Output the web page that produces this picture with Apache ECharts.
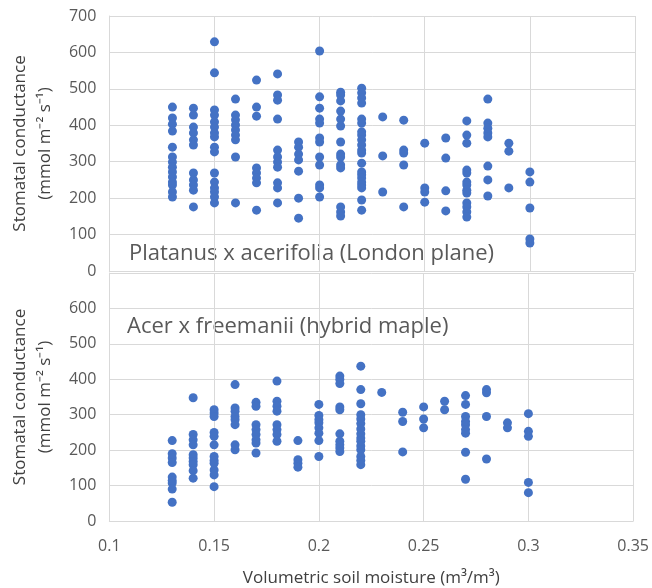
<!DOCTYPE html>
<html>
<head>
<meta charset="utf-8">
<script src="https://cdn.jsdelivr.net/npm/echarts@6/dist/echarts.min.js"></script>
<style>
  html, body { margin: 0; padding: 0; background: #fff; }
  #chart { width: 652px; height: 588px; }
</style>
</head>
<body>
<div id="chart"></div>
<script>
// soil moisture levels (m3/m3), one column of points per level
var moistureLevels = [0.13, 0.14, 0.15, 0.16, 0.17, 0.18, 0.19, 0.2, 0.21, 0.22, 0.23, 0.24, 0.25, 0.26, 0.27, 0.28, 0.29, 0.3];

// Platanus x acerifolia (London plane) - stomatal conductance per level
var planeValues = [
    [450, 420, 403, 384, 340, 313, 299, 285, 272, 258, 244, 236, 217, 203],
    [447, 428, 395, 379, 360, 346, 269, 250, 236, 222, 176],
    [629, 544, 442, 428, 409, 395, 379, 368, 340, 327, 269, 244, 228, 217, 203, 187],
    [472, 428, 415, 401, 387, 373, 360, 313, 187],
    [524, 450, 425, 283, 269, 255, 242, 167],
    [541, 483, 469, 417, 332, 313, 299, 285, 242, 228, 187],
    [354, 340, 321, 305, 274, 200, 145],
    [604, 478, 447, 417, 406, 365, 354, 313, 291, 236, 228, 203],
    [491, 483, 467, 439, 417, 398, 354, 321, 313, 291, 283, 176, 162, 151],
    [502, 489, 475, 461, 417, 406, 382, 373, 360, 346, 332, 324, 296, 272, 264, 255, 244, 236, 228, 195, 167],
    [423, 316, 217],
    [414, 332, 324, 291, 176],
    [351, 228, 217, 189],
    [365, 310, 220, 165],
    [412, 373, 351, 277, 269, 244, 236, 222, 214, 187, 176, 162, 148],
    [472, 406, 392, 379, 368, 288, 250, 206],
    [351, 329, 228],
    [272, 244, 173, 88, 77]
];

// Acer x freemanii (hybrid maple)
var mapleValues = [
    [227, 190, 178, 165, 124, 114, 107, 90, 53],
    [348, 244, 229, 215, 187, 178, 168, 159, 142, 121],
    [314, 305, 295, 250, 239, 215, 182, 171, 163, 144, 130, 97],
    [385, 319, 310, 295, 286, 272, 215, 201],
    [335, 324, 272, 258, 244, 229, 220, 192],
    [395, 338, 324, 310, 272, 258, 244, 225],
    [227, 173, 163, 152],
    [329, 298, 286, 277, 263, 248, 227, 182],
    [409, 400, 388, 322, 314, 246, 225, 215, 206, 196],
    [437, 371, 331, 300, 288, 275, 260, 246, 234, 225, 212, 201, 182, 171, 159],
    [363],
    [307, 281, 195],
    [322, 288, 263],
    [338, 314],
    [354, 329, 295, 281, 272, 258, 248, 194, 118],
    [371, 362, 295, 175],
    [277, 263],
    [303, 253, 239, 109, 80]
];

var xTicks = [0.1, 0.35, 0.05];   // min, max, step
var yTicks = [0, 700, 100];

function toPoints(cols) {
    var pts = [];
    for (var i = 0; i < cols.length; i++) {
        for (var j = 0; j < cols[i].length; j++) {
            pts.push([moistureLevels[i], cols[i][j]]);
        }
    }
    return pts;
}

var font = 'Open Sans';
var textGrey = '#595959';
var titleGrey = '#404040';
var gridGrey = '#d9d9d9';
var dotBlue = '#4472C4';
var yName = 'Stomatal conductance\n(mmol m\u207B\u00B2 s\u207B\u00B9)';

function xAxisFor(idx, withLabels) {
    return {
        type: 'value', gridIndex: idx,
        min: xTicks[0], max: xTicks[1], interval: xTicks[2],
        axisLine: { show: true, lineStyle: { color: gridGrey } },
        axisTick: { show: false },
        splitLine: { show: true, lineStyle: { color: gridGrey } },
        axisLabel: { show: withLabels, color: textGrey, fontSize: 16, fontFamily: font, margin: 17 },
        name: withLabels ? 'Volumetric soil moisture (m\u00B3/m\u00B3)' : '',
        nameLocation: 'middle', nameGap: 49,
        nameTextStyle: { color: titleGrey, fontSize: 17, fontFamily: font }
    };
}

function yAxisFor(idx, hideMax) {
    return {
        type: 'value', gridIndex: idx,
        min: yTicks[0], max: yTicks[1], interval: yTicks[2],
        axisLine: { show: true, lineStyle: { color: gridGrey } },
        axisTick: { show: false },
        splitLine: { show: true, lineStyle: { color: gridGrey } },
        axisLabel: {
            color: textGrey, fontSize: 16, fontFamily: font, margin: 13,
            formatter: function (v) { return (hideMax && v === yTicks[1]) ? '' : v; }
        },
        name: yName, nameLocation: 'middle', nameGap: 50,
        nameTextStyle: { color: titleGrey, fontSize: 17, fontFamily: font, lineHeight: 25 }
    };
}

var myChart = echarts.init(document.getElementById('chart'));
var option = {
    animation: false,
    grid: [
        { left: 107, top: 16, width: 528, height: 255 },
        { left: 107, top: 273, width: 528, height: 248 }
    ],
    xAxis: [xAxisFor(0, false), xAxisFor(1, true)],
    yAxis: [yAxisFor(0, false), yAxisFor(1, true)],
    graphic: [
        { type: 'text', left: 129, top: 243,
          style: { text: 'Platanus x acerifolia (London plane)', fill: textGrey, fontSize: 22, fontFamily: font } },
        { type: 'text', left: 127, top: 316,
          style: { text: 'Acer x freemanii (hybrid maple)', fill: textGrey, fontSize: 22, fontFamily: font } }
    ],
    series: [
        {
            name: 'London plane', type: 'scatter', xAxisIndex: 0, yAxisIndex: 0,
            symbolSize: 9, itemStyle: { color: dotBlue, opacity: 1 },
            data: toPoints(planeValues)
        },
        {
            name: 'hybrid maple', type: 'scatter', xAxisIndex: 1, yAxisIndex: 1,
            symbolSize: 9, itemStyle: { color: dotBlue, opacity: 1 },
            data: toPoints(mapleValues)
        }
    ]
};
myChart.setOption(option);
</script>
</body>
</html>
